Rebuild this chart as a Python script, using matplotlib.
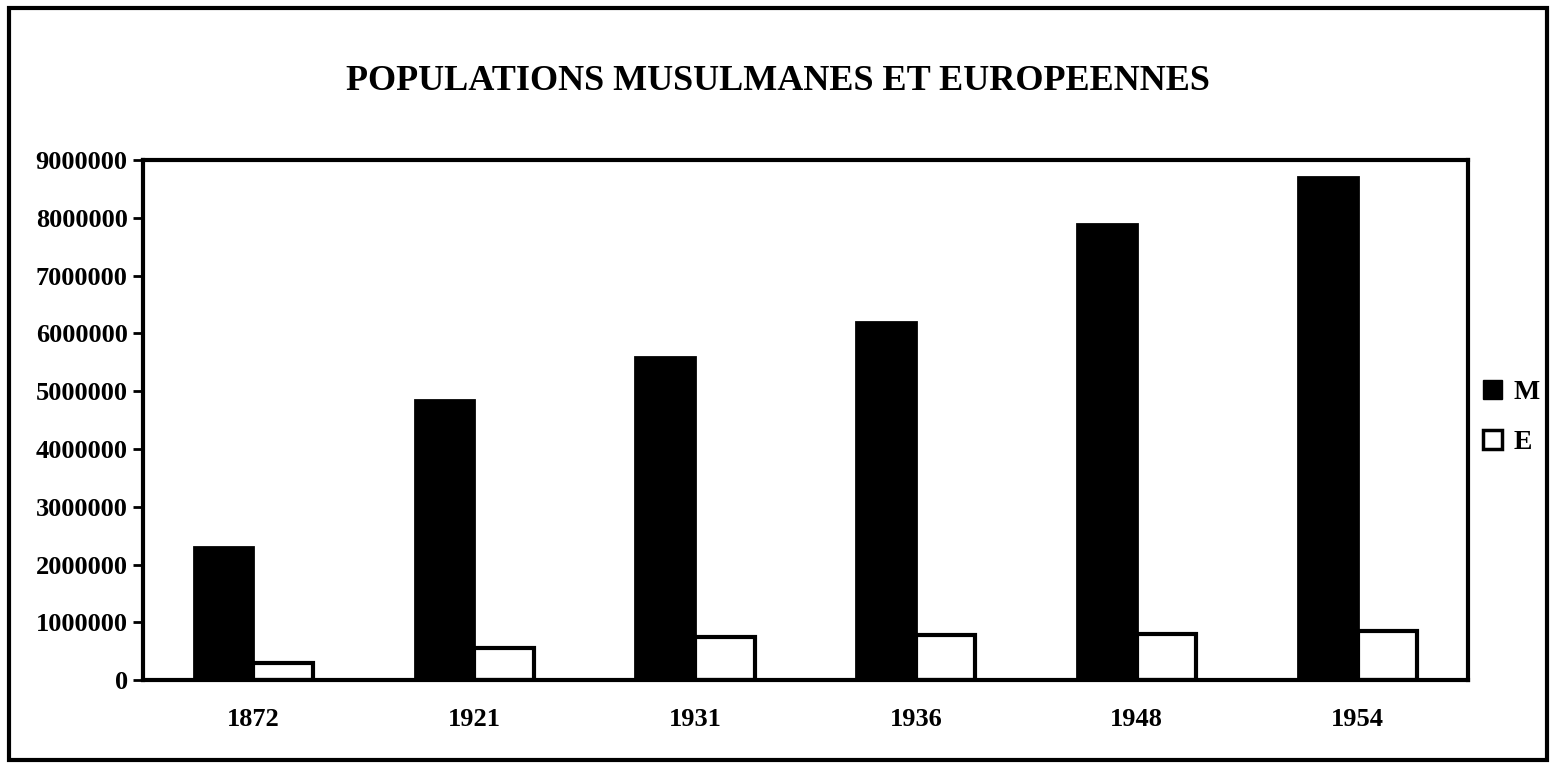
import matplotlib.pyplot as plt
import numpy as np
from matplotlib.patches import Rectangle, Patch

# Data
years = ["1872", "1921", "1931", "1936", "1948", "1954"]
musulmans = [2300000, 4850000, 5600000, 6200000, 7900000, 8700000]
europeens = [300000, 550000, 750000, 780000, 800000, 850000]
yticks = [0, 1000000, 2000000, 3000000, 4000000, 5000000, 6000000, 7000000, 8000000, 9000000]
ytick_labels = ["0", "1000000", "2000000", "3000000", "4000000", "5000000",
                "6000000", "7000000", "8000000", "9000000"]

plt.rcParams["font.family"] = ["Liberation Serif", "DejaVu Serif"]

fig = plt.figure(figsize=(15.56, 7.66), dpi=100)
ax = fig.add_axes([0.0919, 0.112, 0.8515, 0.679])

x = np.arange(len(years))
w = 0.27
ax.bar(x - w / 2, musulmans, width=w, color="black", edgecolor="black", linewidth=2)
ax.bar(x + w / 2, europeens, width=w, color="white", edgecolor="black", linewidth=3)

ax.set_xlim(-0.5, len(years) - 0.5)
ax.set_ylim(0, 9000000)
ax.set_yticks(yticks)
ax.set_yticklabels(ytick_labels, fontsize=19, fontweight="bold")
ax.set_xticks(x)
ax.set_xticklabels(years, fontsize=19, fontweight="bold")
ax.tick_params(axis="y", length=7, width=2, pad=4)
ax.tick_params(axis="x", length=0, pad=20)
for s in ax.spines.values():
    s.set_linewidth(3)

fig.suptitle("POPULATIONS MUSULMANES ET EUROPEENNES", x=0.5, y=0.915,
             fontsize=26, fontweight="bold")

handles = [Patch(facecolor="black", edgecolor="black"),
           Patch(facecolor="white", edgecolor="black", linewidth=2.5)]
fig.legend(handles, ["M", "E"], loc="center left", bbox_to_anchor=(0.937, 0.455),
           frameon=False, prop={"size": 20, "weight": "bold"},
           handlelength=0.7, handleheight=0.7, handletextpad=0.4, labelspacing=0.9)

# outer frame
fig.patches.append(Rectangle((0.006, 0.008), 0.988, 0.982, transform=fig.transFigure,
                             fill=False, edgecolor="black", linewidth=3))

plt.savefig("out.png", dpi=100)
